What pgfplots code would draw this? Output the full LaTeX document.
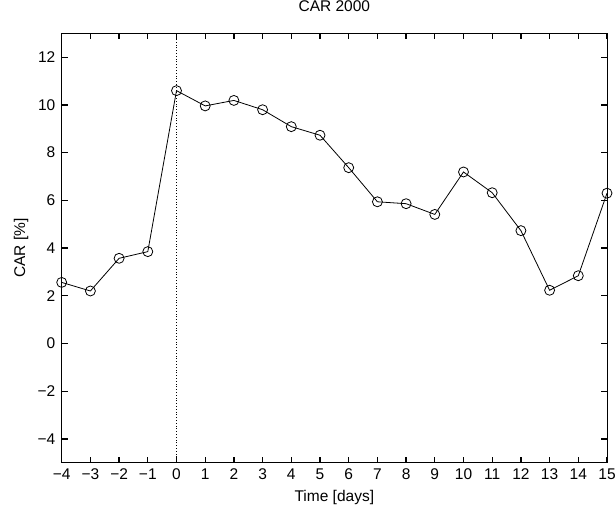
\documentclass[border=0pt]{standalone}
\usepackage{pgfplots}
\pgfplotsset{compat=1.18}
\usepackage{fontspec}
\setmainfont{Liberation Sans}
\newcommand\fs{\fontsize{15.5}{18}\selectfont}
\begin{document}
\fs
\begin{tikzpicture}
\begin{axis}[
  name=ax,
  scale only axis,
  width=545.3pt, height=429.3pt,
  xmin=-4, xmax=15, ymin=-5, ymax=13,
  xtick={-4,-3,...,15},
  xticklabels={−4,−3,−2,−1,0,1,2,3,4,5,6,7,8,9,10,11,12,13,14,15},
  ytick={-4,-2,...,12},
  yticklabels={−4,−2,0,2,4,6,8,10,12},
  tickwidth=6pt,
  major tick style={black, line width=1.3pt},
  axis line style={black, line width=0.9pt},
  xticklabel style={font=\fs, yshift=-1pt},
  yticklabel style={font=\fs, xshift=-1pt},
  title={CAR 2000},
  title style={at={(axis description cs:0.5,1.049)}, anchor=center, font=\fs},
  xlabel={Time [days]},
  xlabel style={at={(axis description cs:0.5,-0.0815)}, anchor=center, font=\fs},
  ylabel={CAR [\%]},
  ylabel style={at={(axis description cs:-0.0746,0.5)}, anchor=center, font=\fs},
]
\addplot[black, dotted, line width=0.8pt, forget plot] coordinates {(0,-5) (0,13)};
\addplot[black, line width=0.8pt, mark=o, mark size=5pt, mark options={line width=0.8pt}] coordinates {
(-4,2.56) (-3,2.20) (-2,3.57) (-1,3.85) (0,10.60) (1,9.96) (2,10.19) (3,9.80)
(4,9.09) (5,8.73) (6,7.37) (7,5.94) (8,5.86) (9,5.41) (10,7.19) (11,6.32)
(12,4.73) (13,2.23) (14,2.84) (15,6.30)
};
\end{axis}
\pgfresetboundingbox
\path[use as bounding box] (ax.south west) ++(-61.7pt,-46.3pt) rectangle ([shift={(8pt,33.4pt)}]ax.north east);
\end{tikzpicture}
\end{document}
